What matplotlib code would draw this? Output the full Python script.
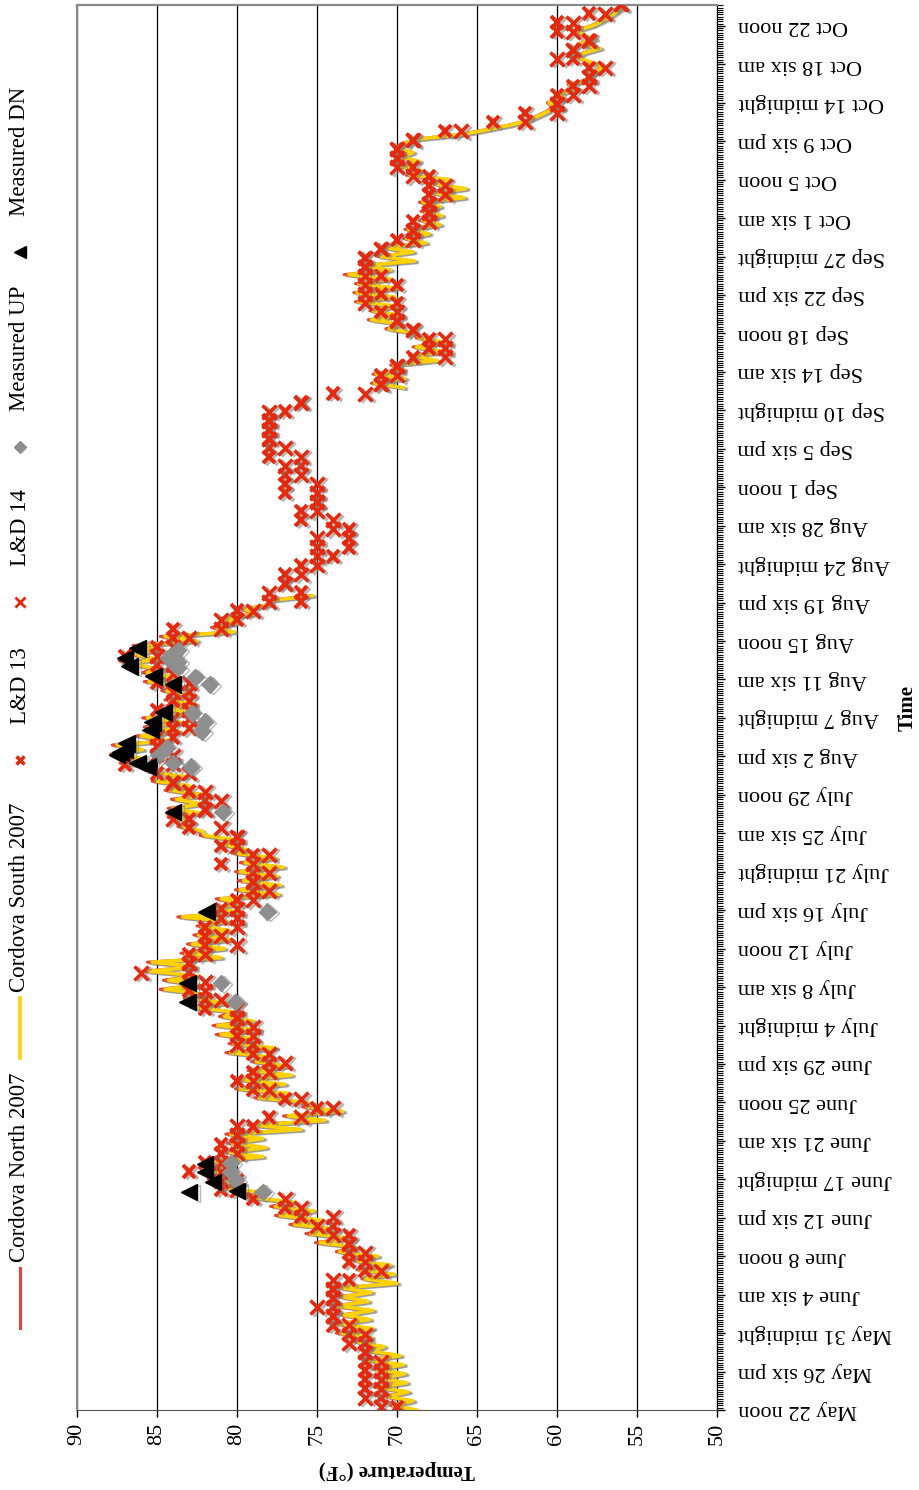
import numpy as np
import matplotlib.pyplot as plt
import matplotlib.patheffects as pe
from matplotlib.lines import Line2D

plt.rcParams['font.family'] = ['Liberation Serif', 'DejaVu Serif']

# time axis: day 0 = May 22 noon, one label every 4.25 days
time_labels = ["May 22 noon", "May 26 six pm", "May 31 midnight", "June 4 six am",
               "June 8 noon", "June 12 six pm", "June 17 midnight", "June 21 six am",
               "June 25 noon", "June 29 six pm", "July 4 midnight", "July 8 six am",
               "July 12 noon", "July 16 six pm", "July 21 midnight", "July 25 six am",
               "July 29 noon", "Aug 2 six pm", "Aug 7 midnight", "Aug 11 six am",
               "Aug 15 noon", "Aug 19 six pm", "Aug 24 midnight", "Aug 28 six am",
               "Sep 1 noon", "Sep 5 six pm", "Sep 10 midnight", "Sep 14 six am",
               "Sep 18 noon", "Sep 22 six pm", "Sep 27 midnight", "Oct 1 six am",
               "Oct 5 noon", "Oct 9 six pm", "Oct 14 midnight", "Oct 18 six am",
               "Oct 22 noon"]
temp_ticks = [90, 85, 80, 75, 70, 65, 60, 55, 50]

# Cordova South 2007, every half day, days 0-90 and 113-155
south_a = [68.8, 70.2, 69.0, 70.6, 69.3, 71.2, 69.4, 71.0, 69.5, 71.3,
           69.6, 71.8, 69.8, 71.6, 70.8, 72.4, 71.6, 73.5, 71.5, 73.6,
           71.7, 73.3, 71.5, 73.7, 71.8, 73.4, 71.6, 73.5, 70.0, 72.0,
           70.2, 72.3, 70.4, 72.5, 71.2, 73.6, 72.6, 74.8, 73.0, 75.4,
           73.8, 76.4, 74.8, 77.3, 75.2, 77.6, 76.5, 79.2, 78.2, 80.6,
           80.2, 81.5, 80.4, 81.7, 80.3, 81.4, 78.4, 80.5, 78.2, 80.3,
           78.4, 80.4, 76.0, 79.0, 74.5, 76.8, 73.4, 75.6, 75.6, 78.6,
           76.8, 79.8, 77.0, 79.6, 76.6, 79.0, 76.8, 78.8, 77.8, 80.4,
           77.6, 80.2, 78.8, 81.0, 78.6, 81.2, 79.0, 80.8, 80.2, 82.6,
           80.5, 83.0, 82.2, 84.5, 82.4, 84.3, 82.5, 85.5, 82.6, 85.3,
           81.0, 83.2, 80.8, 82.8, 80.4, 82.4, 80.5, 82.2, 80.6, 83.4,
           80.0, 81.2, 79.8, 81.0, 77.4, 79.8, 77.3, 79.6, 77.5, 79.8,
           77.1, 79.5, 77.6, 79.9, 79.5, 80.8, 80.0, 82.0, 82.2, 83.4,
           83.0, 84.0, 82.4, 84.0, 82.2, 83.8, 82.0, 84.2, 83.0, 85.0,
           83.2, 85.2, 85.2, 87.0, 85.8, 87.6, 85.9, 87.5, 84.2, 86.0,
           83.6, 85.5, 83.5, 85.6, 82.7, 84.4, 82.6, 84.2, 82.8, 84.4,
           83.7, 85.5, 83.8, 85.6, 85.1, 86.8, 85.0, 86.3, 85.1, 86.2,
           82.5, 84.5, 80.2, 81.3, 80.0, 80.8, 78.8, 79.5, 78.0, 77.8,
           75.3]
south_b = [69.6, 71.4, 69.5, 71.3, 69.6, 70.2, 67.5, 69.0, 67.0, 68.8,
           67.0, 68.6, 68.8, 70.5, 69.7, 71.6, 69.8, 71.5, 70.0, 72.4,
           70.1, 72.5, 70.0, 72.4, 70.4, 73.0, 70.4, 72.0, 68.9, 71.0,
           69.0, 70.8, 68.2, 69.4, 68.0, 69.3, 67.3, 68.4, 67.2, 68.3,
           67.3, 68.4, 65.8, 67.6, 65.7, 67.5, 66.7, 69.2, 68.5, 69.8,
           68.6, 69.7, 69.0, 70.0, 69.6, 68.6, 65.9, 64.4, 63.0, 61.8,
           61.2, 60.6, 60.2, 60.5, 59.6, 59.8, 58.8, 59.2, 58.1, 57.8,
           57.5, 57.1, 57.9, 58.7, 58.3, 57.3, 58.6, 57.6, 58.4, 58.7,
           57.8, 57.2, 56.7, 56.3, 55.9]

# Cordova North 2007, same times
north_a = [68.9, 70.4, 69.1, 70.8, 69.4, 71.4, 69.5, 71.2, 69.6, 71.5,
           69.7, 72.0, 69.9, 71.8, 70.9, 72.6, 71.7, 73.8, 71.6, 73.8,
           71.8, 73.5, 71.6, 73.9, 71.9, 73.6, 71.7, 73.7, 70.1, 72.2,
           70.3, 72.5, 70.5, 72.7, 71.3, 73.8, 72.7, 75.1, 73.1, 75.7,
           73.9, 76.7, 74.9, 77.6, 75.3, 77.9, 76.6, 79.5, 78.3, 80.9,
           80.3, 81.8, 80.5, 82.0, 80.4, 81.7, 78.5, 80.8, 78.3, 80.6,
           78.5, 80.7, 76.1, 79.3, 74.6, 77.1, 73.5, 75.9, 75.7, 78.9,
           76.9, 80.1, 77.1, 79.9, 76.7, 79.3, 76.9, 79.1, 77.9, 80.7,
           77.7, 80.5, 78.9, 81.3, 78.7, 81.5, 79.1, 81.1, 80.3, 82.9,
           80.6, 83.3, 82.3, 84.8, 82.5, 84.6, 82.6, 85.8, 82.7, 85.6,
           81.1, 83.5, 80.9, 83.1, 80.5, 82.7, 80.6, 82.5, 80.7, 83.7,
           80.1, 81.5, 79.9, 81.3, 77.5, 80.1, 77.4, 79.9, 77.6, 80.1,
           77.2, 79.8, 77.7, 80.2, 79.6, 81.1, 80.1, 82.3, 82.3, 83.7,
           83.1, 84.3, 82.5, 84.3, 82.3, 84.1, 82.1, 84.5, 83.1, 85.3,
           83.3, 85.5, 85.3, 87.3, 85.9, 87.9, 86.0, 87.8, 84.3, 86.3,
           83.7, 85.8, 83.6, 85.9, 82.8, 84.7, 82.7, 84.5, 82.9, 84.7,
           83.8, 85.8, 83.9, 85.9, 85.2, 87.1, 85.1, 86.6, 85.2, 86.5,
           82.6, 84.8, 80.3, 81.6, 80.1, 81.0, 78.9, 79.7, 78.1, 78.0,
           75.4]
north_b = [69.7, 71.6, 69.6, 71.5, 69.7, 70.4, 67.6, 69.2, 67.1, 69.0,
           67.1, 68.8, 68.9, 70.7, 69.8, 71.8, 69.9, 71.7, 70.1, 72.6,
           70.2, 72.7, 70.1, 72.6, 70.5, 73.3, 70.5, 72.2, 69.0, 71.2,
           69.1, 71.0, 68.3, 69.6, 68.1, 69.5, 67.4, 68.6, 67.3, 68.5,
           67.4, 68.6, 65.9, 67.8, 65.8, 67.7, 66.8, 69.4, 68.6, 69.9,
           68.7, 69.8, 69.1, 70.1, 69.7, 68.7, 66.0, 64.5, 63.1, 61.9,
           61.3, 60.7, 60.3, 60.6, 59.7, 59.9, 58.9, 59.3, 58.2, 57.9,
           57.6, 57.2, 58.0, 58.8, 58.4, 57.4, 58.7, 57.7, 58.5, 58.8,
           57.9, 57.3, 56.8, 56.4, 56.0]

# lock & dam daily readings, days 0-155
ld13 = [70, 71, 72, 72, 72, 72, 72, 72, 73, 74,
        74, 74, 74, 74, 73, 72, 73, 73, 73, 73,
        74, 76, 77, 79, 81, 80, 83, 82, 81, 81,
        80, 79, 78, 75, 77, 79, 80, 79, 78, 79,
        79, 80, 80, 80, 82, 82, 83, 83, 83, 83,
        83, 82, 82, 82, 81, 81, 80, 79, 79, 79,
        81, 79, 81, 80, 83, 83, 82, 82, 83, 84,
        85, 87, 85, 85, 84, 84, 84, 85, 84, 83,
        85, 85, 85, 87, 85, 84, 84, 80, 80, 76,
        76, 77, 77, 76, 74, 73, 73, 73, 76, 76,
        75, 77, 77, 77, 76, 78, 78, 78, 78, 78,
        77, 76, 74, 71, 71, 70, 69, 68, 68, 69,
        70, 71, 70, 71, 70, 71, 72, 72, 71, 70,
        69, 69, 68, 68, 68, 68, 68, 69, 70, 70,
        69, 67, 64, 62, 60, 60, 59, 58, 58, 59,
        59, 58, 60, 60, 58, 56]
ld14 = [71, 72, 71, 71, 71, 71, 72, 73, 72, 73,
        74, 75, 74, 74, 74, 71, 72, 72, 73, 74,
        75, 74, 76, 77, 80, 81, 81, 81, 80, 80,
        80, 80, 76, 74, 76, 78, 79, 78, 77, 78,
        80, 79, 79, 80, 80, 81, 82, 82, 86, 83,
        82, 80, 81, 80, 80, 80, 79, 78, 79, 78,
        79, 78, 80, 80, 81, 84, 82, 81, 82, 84,
        83, 84, 84, 85, 85, 83, 83, 83, 83, 84,
        83, 84, 84, 85, 84, 83, 81, 81, 79, 78,
        78, 77, 76, 75, 75, 75, 75, 74, 74, 75,
        75, 75, 75, 76, 77, 76, 77, 78, 78, 78,
        78, 76, 72, 71, 70, 70, 67, 67, 67, 69,
        70, 70, 72, 72, 72, 72, 72, 72, 71, 69,
        69, 68, 68, 68, 67, 67, 69, 70, 70, 70,
        69, 66, 62, 60, 60, 59, 58, 58, 57, 60,
        59, 58, 59, 59, 57, 56]

# measured profiles (day, temperature)
up_day = [24.1, 25.4, 26.3, 27.3, 45.1, 47.2, 55.1, 66.1, 71.1, 71.5, 72.4,
          73.2, 75.0, 76.1, 77.0, 80.2, 81.0, 82.0, 82.7, 83.1, 84.0]
up_temp = [78.4, 80.1, 80.4, 80.4, 80.1, 81.0, 78.1, 80.9, 82.9, 84.0, 84.9,
           84.4, 82.2, 82.0, 82.8, 81.7, 82.6, 83.7, 83.7, 84.3, 83.7]
dn_day = [24.1, 24.2, 25.2, 26.3, 27.2, 45.1, 47.2, 55.1, 66.1, 71.1, 71.5,
          72.4, 72.7, 73.0, 73.7, 75.2, 76.0, 77.1, 80.2, 81.1, 82.2, 83.1, 84.2]
dn_temp = [83.0, 80.0, 81.5, 82.0, 82.0, 83.1, 83.1, 81.9, 84.0, 85.6, 86.2,
           87.5, 87.3, 87.0, 86.9, 85.4, 85.3, 84.6, 84.0, 85.2, 86.7, 87.0, 86.2]

t_line = np.concatenate([np.arange(len(south_a)) * 0.5, [100.0],
                         113 + np.arange(len(south_b)) * 0.5])
south = np.concatenate([south_a, [np.nan], south_b])
north = np.concatenate([north_a, [np.nan], north_b])
ld_day = np.arange(len(ld13)) + 0.35

W, H = 919, 1490
fig = plt.figure(figsize=(W / 100, H / 100), dpi=100)
ax = fig.add_axes([77 / W, 80 / H, 640 / W, 1405 / H])

shadow = [pe.SimpleLineShadow(offset=(2.2, -1.0), shadow_color='#7f7f7f', alpha=0.55), pe.Normal()]

ax.plot(north, t_line, color='#E8403C', lw=2.2, path_effects=shadow, zorder=3)
ax.plot(south, t_line, color='#FFD200', lw=2.6, path_effects=shadow, zorder=4)
ax.plot(ld13, ld_day, ls='none', marker='x', ms=9, mew=2.8, color='#E8280C',
        path_effects=shadow, zorder=5)
ax.plot(ld14, ld_day, ls='none', marker='x', ms=10, mew=2.5, color='#E8280C',
        path_effects=shadow, zorder=5)
ax.plot(up_temp, up_day, ls='none', marker='D', ms=8.5, color='#8E8E8E', mec='#8E8E8E',
        path_effects=shadow, zorder=6)
ax.plot(dn_temp, dn_day, ls='none', marker='<', ms=12, color='black',
        path_effects=shadow, zorder=7)

ax.set_xlim(90, 50)
ax.set_ylim(0, 155.3)
ax.set_xticks(temp_ticks)
ax.set_xticklabels([str(v) for v in temp_ticks], rotation=90, fontsize=16)
ax.xaxis.grid(True, color='black', lw=0.9)
ax.set_axisbelow(True)
ax.tick_params(axis='x', direction='out', length=5, width=1, pad=4)

ax.yaxis.tick_right()
ax.set_yticks(np.arange(len(time_labels)) * 4.25)
ax.set_yticklabels(time_labels, rotation=180, fontsize=16, va='center')
ax.set_yticks(np.arange(0, 155.3, 0.25), minor=True)
ax.tick_params(axis='y', which='major', direction='out', length=6, width=1, pad=9)
ax.tick_params(axis='y', which='minor', direction='out', length=4, width=0.8)

for side in ['top', 'left']:
    ax.spines[side].set_color('#8a8a8a')
    ax.spines[side].set_linewidth(1.6)
ax.spines['bottom'].set_color('#555555')
ax.spines['right'].set_color('black')

fig.text(397 / W, 1 - 1470 / H, 'Temperature (°F)', rotation=180, fontsize=15,
         fontweight='bold', ha='center', va='center')
fig.text(908 / W, 1 - 708 / H, 'Time', rotation=90, fontsize=15,
         fontweight='bold', ha='center', va='center')

# legend, drawn by hand as one rotated row on the left side
lx = 20 / W
def fy(y):
    return 1 - y / H

leg_fs = 16.5
fig.add_artist(Line2D([lx, lx], [fy(1328), fy(1268)], color='#E8403C', lw=2.2,
                      transform=fig.transFigure))
fig.text(lx, fy(1262), 'Cordova North 2007', rotation=90, fontsize=leg_fs, ha='center', va='bottom')
fig.add_artist(Line2D([lx, lx], [fy(1058), fy(998)], color='#FFD200', lw=2.6,
                      transform=fig.transFigure))
fig.text(lx, fy(992), 'Cordova South 2007', rotation=90, fontsize=leg_fs, ha='center', va='bottom')
fig.add_artist(Line2D([lx], [fy(760)], ls='none', marker='x', ms=6, mew=2.5,
                      color='#E8280C', transform=fig.transFigure))
fig.text(lx, fy(724), 'L&D 13', rotation=90, fontsize=leg_fs, ha='center', va='bottom')
fig.add_artist(Line2D([lx], [fy(602)], ls='none', marker='x', ms=7, mew=2.0,
                      color='#E8280C', transform=fig.transFigure))
fig.text(lx, fy(566), 'L&D 14', rotation=90, fontsize=leg_fs, ha='center', va='bottom')
fig.add_artist(Line2D([lx], [fy(447)], ls='none', marker='D', ms=6,
                      color='#8E8E8E', transform=fig.transFigure))
fig.text(lx, fy(411), 'Measured UP', rotation=90, fontsize=leg_fs, ha='center', va='bottom')
fig.add_artist(Line2D([lx], [fy(252)], ls='none', marker='<', ms=8,
                      color='black', transform=fig.transFigure))
fig.text(lx, fy(216), 'Measured DN', rotation=90, fontsize=leg_fs, ha='center', va='bottom')

fig.savefig('out.png', dpi=100)
